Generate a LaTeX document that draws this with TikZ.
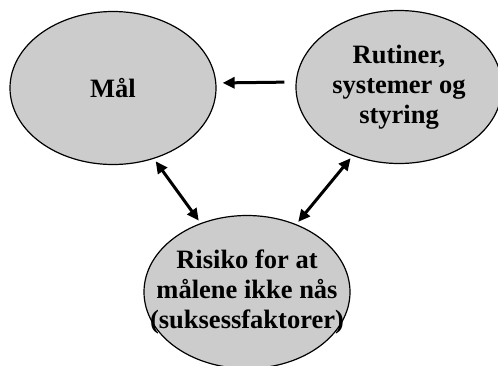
\documentclass[tikz,border=0pt]{standalone}
\usepackage{fontspec}
\setmainfont{Liberation Serif}
\usetikzlibrary{shapes.geometric,arrows.meta}

\tikzset{
    felt/.style={ellipse, draw, line width=1.2pt, fill=gray!40, inner sep=-40pt,
        minimum width=206pt, minimum height=153pt, align=center,
        font=\bfseries\fontsize{26.5}{30}\selectfont},
    pil/.style={line width=3pt, -{Triangle[length=12pt,width=11pt]}},
    dobbelpil/.style={line width=3pt, {Triangle[length=12pt,width=11pt]}-{Triangle[length=12pt,width=11pt]}}
}

\begin{document}
\begin{tikzpicture}[x=1pt, y=-1pt]
            %\draw[lightgray] (0, 0) grid (498, 365);
            \useasboundingbox (0, 0) rectangle (498, 365);
            \node[felt] (maal) at (113, 88) {Mål};
            \node[felt] (rutiner) at (399, 87) {Rutiner,\\systemer og\\styring};
            \node[felt] (risiko) at (247, 292) {Risiko for at\\målene ikke nås\\(suksessfaktorer)};
            \draw[pil, shorten <=11pt, shorten >=6pt] ([yshift=5pt]rutiner.west) -- ([yshift=5pt]maal.east);
            \draw[dobbelpil, shorten <=3pt, shorten >=3pt] (maal.-60) -- (risiko.124);
            \draw[dobbelpil, shorten <=3pt, shorten >=3pt] (risiko.54) -- (rutiner.-124);
        \end{tikzpicture}
\end{document}
